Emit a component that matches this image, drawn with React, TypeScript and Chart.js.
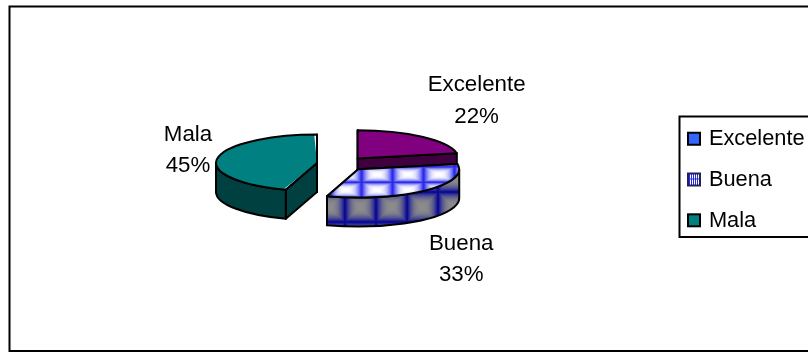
import { useEffect, useRef } from "react";
import { Chart, registerables } from "chart.js";

Chart.register(...registerables);

const categories = ["Excelente", "Buena", "Mala"];
const shares = [22, 33, 45];
const faceColors = ["#800080", "pattern", "#008080"];
const wallColors = ["#400040", "pattern", "#004040"];
const legendColors = ["#3366ff", "pattern", "#008080"];
// Where each slice caption sits, measured from that slice's tip.
const captionShift = [
  [119, -58],
  [103, 90],
  [-129, -13],
];

const RADIUS = 101;
const OFFSET = 100;
const TILT = 0.28;
const WALL = 29;
const PIE_CENTER_Y = 164;
const FAMILY = '"Liberation Sans", Arial, sans-serif';

function mix(a: number[], b: number[], t: number) {
  return a.map((v, i) => Math.round(v + (b[i] - v) * t));
}

// One tile of the glowing grid: light in the middle, dark along the tile edges.
function gridTile(w: number, h: number, inner: number[], edge: number[], power: number) {
  const c = document.createElement("canvas");
  c.width = w;
  c.height = h;
  const g = c.getContext("2d")!;
  const img = g.createImageData(w, h);
  for (let y = 0; y < h; y++) {
    for (let x = 0; x < w; x++) {
      const u = Math.abs((2 * (x + 0.5)) / w - 1);
      const v = Math.abs((2 * (y + 0.5)) / h - 1);
      const t = Math.pow(Math.min(1, Math.max(u, v)), power);
      const [r, gr, b] = mix(inner, edge, t);
      const p = (y * w + x) * 4;
      img.data[p] = r;
      img.data[p + 1] = gr;
      img.data[p + 2] = b;
      img.data[p + 3] = 255;
    }
  }
  g.putImageData(img, 0, 0);
  return c;
}

function swatch(fill: string, striped: boolean) {
  const c = document.createElement("canvas");
  c.width = 17;
  c.height = 17;
  const g = c.getContext("2d")!;
  g.fillStyle = striped ? "#ffffff" : fill;
  g.fillRect(3, 1, 14, 14);
  if (striped) {
    g.fillStyle = "#2a2ae0";
    for (let x = 5; x < 16; x += 2) g.fillRect(x, 2, 1, 12);
    g.fillRect(3, 7, 14, 1);
  }
  g.strokeStyle = striped ? "#20205a" : "#000000";
  g.lineWidth = 2;
  g.strokeRect(4, 2, 12, 12);
  return c;
}

function tip(arc: any) {
  const half = (arc.startAngle + arc.endAngle) / 2;
  const off = (arc.options.offset || 0) / 4;
  return { x: arc.x + Math.cos(half) * off, y: arc.y + Math.sin(half) * off };
}

const screenY = (y: number, y0: number) => PIE_CENTER_Y + TILT * (y - y0);

export default function App() {
  const ref = useRef<HTMLCanvasElement>(null);

  useEffect(() => {
    const canvas = ref.current!;
    const ctx = canvas.getContext("2d")!;
    const topPattern = ctx.createPattern(gridTile(31, 55, [255, 255, 255], [24, 24, 235], 2.6), "repeat")!;
    const wallPattern = ctx.createPattern(gridTile(31, 30, [140, 140, 140], [0, 0, 150], 2.6), "repeat")!;
    const fill = (list: string[], i: number, pattern: CanvasPattern) =>
      list[i] === "pattern" ? pattern : list[i];

    const pie3d = {
      id: "pie3d",
      afterLayout(chart: any) {
        // The key sits hard against the right edge, running past it.
        const l = chart.legend;
        const w = l.width;
        l.left = 668;
        l.right = 668 + w;
        l.top += 4;
        l.bottom += 4;
      },
      afterDatasetsUpdate(chart: any) {
        // ArcElement enlarges an exploded slice by a share of its offset; undo that
        // so every slice keeps the same radius.
        chart.getDatasetMeta(0).data.forEach((arc: any) => {
          const fix = 1 - Math.sin(Math.min(Math.PI, arc.circumference));
          arc.outerRadius = RADIUS - (OFFSET / 4) * fix;
        });
      },
      beforeDraw(chart: any) {
        const c = chart.ctx;
        c.save();
        c.fillStyle = "#ffffff";
        c.fillRect(0, 0, chart.width, chart.height);
        c.strokeStyle = "#000000";
        c.lineWidth = 2;
        c.strokeRect(9.5, 6.5, chart.width + 20, 344.5);
        c.strokeRect(679.5, 116.5, chart.width, 120.5);
        c.restore();
      },
      beforeDatasetsDraw(chart: any) {
        const c = chart.ctx;
        const arcs = chart.getDatasetMeta(0).data;
        const y0 = (chart.chartArea.top + chart.chartArea.bottom) / 2;
        const a = PIE_CENTER_Y - TILT * y0;
        topPattern.setTransform(new DOMMatrix().translate(345, (177 - a) / TILT));
        wallPattern.setTransform(new DOMMatrix().translate(345, 192));
        c.save();
        c.strokeStyle = "#000000";
        c.lineWidth = 2;
        c.lineJoin = "round";
        arcs.forEach((arc: any, i: number) => {
          const t = tip(arc);
          const r = RADIUS;
          const cx = t.x;
          const cy = screenY(t.y, y0);
          c.fillStyle = fill(wallColors, i, wallPattern);
          // Flat cut faces on both straight edges of the slice.
          [arc.startAngle, arc.endAngle].forEach((ang: number) => {
            const rx = cx + r * Math.cos(ang);
            const ry = cy + r * TILT * Math.sin(ang);
            c.beginPath();
            c.moveTo(cx, cy);
            c.lineTo(rx, ry);
            c.lineTo(rx, ry + WALL);
            c.lineTo(cx, cy + WALL);
            c.closePath();
            c.fill();
            c.stroke();
          });
          // Curved outer wall, only where the rim faces the viewer.
          const from = Math.max(arc.startAngle, 0);
          const to = Math.min(arc.endAngle, Math.PI);
          if (to > from) {
            c.beginPath();
            c.ellipse(cx, cy, r, r * TILT, 0, from, to);
            c.ellipse(cx, cy + WALL, r, r * TILT, 0, to, from, true);
            c.closePath();
            c.fill();
            c.stroke();
          }
        });
        c.restore();
        c.save();
        c.translate(0, a);
        c.scale(1, TILT);
      },
      afterDatasetsDraw(chart: any) {
        const c = chart.ctx;
        c.restore();
        const arcs = chart.getDatasetMeta(0).data;
        const y0 = (chart.chartArea.top + chart.chartArea.bottom) / 2;
        const total = shares.reduce((s, v) => s + v, 0);
        c.save();
        c.strokeStyle = "#000000";
        c.lineWidth = 2;
        c.lineJoin = "round";
        arcs.forEach((arc: any) => {
          const t = tip(arc);
          const cx = t.x;
          const cy = screenY(t.y, y0);
          c.beginPath();
          c.moveTo(cx, cy);
          c.ellipse(cx, cy, RADIUS, RADIUS * TILT, 0, arc.startAngle, arc.endAngle);
          c.closePath();
          c.stroke();
        });
        c.fillStyle = "#000000";
        c.font = `22.3px ${FAMILY}`;
        c.textAlign = "center";
        c.textBaseline = "middle";
        arcs.forEach((arc: any, i: number) => {
          const t = tip(arc);
          const x = t.x + captionShift[i][0];
          const y = screenY(t.y, y0) + captionShift[i][1];
          c.fillText(categories[i], x, y - 15.5);
          c.fillText(`${Math.round((shares[i] / total) * 100)}%`, x, y + 16);
        });
        c.restore();
      },
    };

    const chart = new Chart(canvas, {
      type: "pie",
      data: {
        labels: categories,
        datasets: [
          {
            data: shares,
            backgroundColor: categories.map((_, i) => fill(faceColors, i, topPattern)),
            borderWidth: 0,
            offset: OFFSET,
            clip: false,
          } as any,
        ],
      },
      options: {
        responsive: false,
        animation: false,
        radius: RADIUS,
        layout: { padding: { left: 22 } },
        plugins: {
          tooltip: { enabled: false },
          legend: {
            position: "right",
            labels: {
              usePointStyle: true,
              boxWidth: 11,
              boxHeight: 11,
              padding: 19,
              color: "#000000",
              font: { family: FAMILY, size: 21.8 },
              generateLabels: () =>
                categories.map((text, i) => ({
                  text,
                  index: i,
                  pointStyle: swatch(legendColors[i], legendColors[i] === "pattern"),
                  fontColor: "#000000",
                  lineWidth: 0,
                })) as any,
            },
          },
        },
      } as any,
      plugins: [pie3d],
    });
    return () => chart.destroy();
  }, []);

  return (
    <canvas
      ref={ref}
      width={808}
      height={352}
      style={{ position: "absolute", left: 0, top: 0, display: "block" }}
    />
  );
}
